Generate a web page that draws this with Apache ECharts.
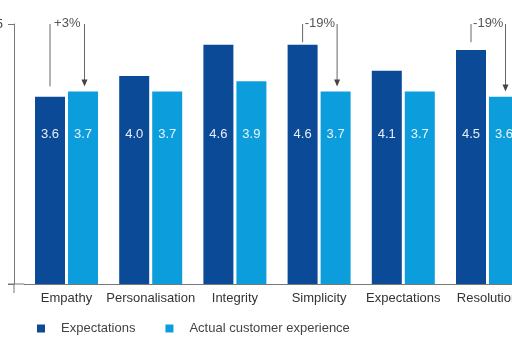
<!DOCTYPE html>
<html><head><meta charset="utf-8">
<script src="https://cdn.jsdelivr.net/npm/echarts@6/dist/echarts.min.js"></script>
<style>html,body{margin:0;padding:0;background:#fff}#c{width:512px;height:341px}</style>
</head><body><div id="c"></div>
<script>
const categories = ['Empathy','Personalisation','Integrity','Simplicity','Expectations','Resolution'];
const expectations = [3.6,4.0,4.6,4.6,4.1,4.5];
const actual = [3.7,3.7,3.9,3.7,3.7,3.6];
const yTicks = [0,5];
const annotCats = [0,3,5];
const annotLabels = ['+3%','-19%','-19%'];
const annotTop = [5,5,5];
const annotLeftEnd = [3.8,4.65,4.65];
const annotRightEnd = [3.8,3.8,3.7];

const DARK = '#0b4a97', LIGHT = '#0c9edc', FONT = 'Liberation Sans, Arial, sans-serif';
const BAR_W = 30, BAR_GAP = 3;

const annotData = annotCats.map((c,i)=>[c, annotTop[i], annotLeftEnd[i], annotRightEnd[i], annotLabels[i]]);

const chart = echarts.init(document.getElementById('c'));
chart.setOption({
  animation:false,
  grid:{left:24.4, right:-17.6, top:24, bottom:57, containLabel:false, outerBoundsMode:'none'},
  legend:{
    left:32, top:317, itemWidth:8, itemHeight:8, itemGap:30, icon:'rect',
    textStyle:{fontFamily:FONT, fontSize:13, color:'#444', padding:[0,0,0,11]},
    data:['Expectations','Actual customer experience']
  },
  xAxis:{type:'category', data:categories,
    axisLine:{lineStyle:{color:'#777'}}, axisTick:{show:false},
    axisLabel:{fontFamily:FONT, fontSize:13, color:'#333', margin:8, interval:0, hideOverlap:false}},
  yAxis:{type:'value', min:yTicks[0], max:yTicks[1], interval:5, offset:10.4,
    axisLine:{show:true, lineStyle:{color:'#777'}}, axisTick:{show:true, length:6, lineStyle:{color:'#777'}},
    splitLine:{show:false},
    axisLabel:{fontFamily:FONT, fontSize:13, color:'#444', margin:11, formatter:v=> v===0?'':String(v)}},
  series:[
    {name:'Expectations', type:'bar', data:expectations, barWidth:BAR_W, barGap:(BAR_GAP/BAR_W*100)+'%',
      itemStyle:{color:DARK},
      label:{show:true, position:'insideBottom', distance:143, color:'#e8eef7', fontFamily:FONT, fontSize:13, formatter:p=>p.value.toFixed(1)}},
    {name:'Actual customer experience', type:'bar', data:actual, barWidth:BAR_W,
      itemStyle:{color:LIGHT},
      label:{show:true, position:'insideBottom', distance:143, color:'#e8f4fb', fontFamily:FONT, fontSize:13, formatter:p=>p.value.toFixed(1)}},
    {type:'custom', clip:false, silent:true, data:annotData, z:5,
      renderItem:function(params, api){
        const ci = api.value(0);
        const c = api.coord([ci, 0]);
        const off = (BAR_W+BAR_GAP)/2;
        const lx = c[0]-off, rx = c[0]+off+1.5;
        const top = api.coord([ci, api.value(1)])[1];
        const le = api.coord([ci, api.value(2)])[1];
        const re = api.coord([ci, api.value(3)])[1];
        const ls = {stroke:'#666', lineWidth:1};
        const children = [
          {type:'line', shape:{x1:lx,y1:top,x2:lx,y2:le}, style:ls},
          {type:'line', shape:{x1:rx,y1:top,x2:rx,y2:re-6}, style:ls},
          {type:'polygon', shape:{points:[[rx-3,re-7],[rx+3,re-7],[rx,re]]}, style:{fill:'#444'}},
          {type:'text', x:(lx+rx)/2, y:top-1, style:{text:api.value(4), fill:'#555', font:'13px '+FONT, align:'center', verticalAlign:'middle'}}
        ];
        if (params.dataIndex===0) {
          const cs = params.coordSys;
          const base = cs.y + cs.height;
          const ax = cs.x - 10.4;
          children.push({type:'line', shape:{x1:ax-6,y1:base,x2:cs.x,y2:base}, style:{stroke:'#777',lineWidth:1}});
          children.push({type:'line', shape:{x1:ax,y1:base,x2:ax,y2:base+9}, style:{stroke:'#777',lineWidth:1}});
        }
        return {type:'group', children};
      }}
  ]
});
</script></body></html>
